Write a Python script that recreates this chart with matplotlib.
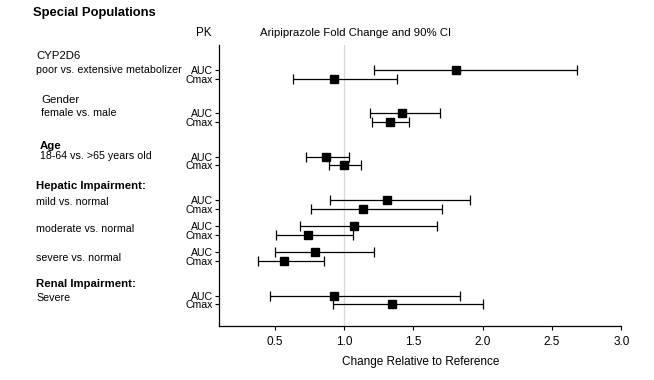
import matplotlib.pyplot as plt
from matplotlib.transforms import blended_transform_factory

plt.rcParams['font.family'] = ['Liberation Sans', 'DejaVu Sans']

# Data (fold change, 90% CI)
pk = ["AUC", "Cmax"] * 7
estimate = [1.81, 0.93, 1.42, 1.33, 0.87, 1.00, 1.31, 1.14, 1.07, 0.74, 0.79, 0.57, 0.93, 1.35]
ci_low = [1.22, 0.63, 1.19, 1.20, 0.73, 0.89, 0.90, 0.76, 0.68, 0.51, 0.50, 0.38, 0.47, 0.92]
ci_high = [2.68, 1.38, 1.69, 1.47, 1.04, 1.12, 1.91, 1.71, 1.67, 1.065, 1.22, 0.86, 1.84, 2.00]

headers = ["CYP2D6", "Gender", "Age", "Hepatic Impairment:", "Renal Impairment:"]
comparisons = ["poor vs. extensive metabolizer", "female vs. male", "18-64 vs. >65 years old",
               "mild vs. normal", "moderate vs. normal", "severe vs. normal", "Severe"]

# layout
ypos = [0, 1, 5, 6, 10, 11, 15, 16, 18, 19, 21, 22, 26, 27]
header_y = [-1.6, 3.45, 8.7, 13.4, 24.6]
header_x = [0.055, 0.063, 0.061, 0.055, 0.055]
header_bold = [False, False, True, True, True]
comp_y = [0.0, 5.0, 9.9, 15.2, 18.3, 21.7, 26.3]
comp_x = [0.055, 0.063, 0.061, 0.055, 0.055, 0.055, 0.055]

fig = plt.figure(figsize=(6.54, 3.80), dpi=100)
ax = fig.add_axes([0.335, 0.142, 0.615, 0.74])

ax.axvline(1.0, color="#d8d8d8", lw=0.9, zorder=0)
err = [[e - l for e, l in zip(estimate, ci_low)], [h - e for e, h in zip(estimate, ci_high)]]
ax.errorbar(estimate, ypos, xerr=err, fmt="s", color="black", ms=5.5,
            elinewidth=0.9, capsize=3.5, capthick=0.9, ecolor="black")

ax.set_xlim(0.1, 3.0)
ax.set_ylim(29.5, -2.9)
ax.set_xticks([0.5, 1.0, 1.5, 2.0, 2.5, 3.0])
ax.set_xticklabels(["0.5", "1.0", "1.5", "2.0", "2.5", "3.0"], fontsize=8.5)
ax.set_yticks(ypos)
ax.set_yticklabels(pk, fontsize=7.6)
ax.tick_params(axis="y", length=3, width=0.8, pad=1.5)
ax.tick_params(axis="x", length=3, width=0.8, pad=4)
for s in ["top", "right"]:
    ax.spines[s].set_visible(False)
ax.spines["left"].set_linewidth(0.9)
ax.spines["bottom"].set_linewidth(0.9)
ax.set_xlabel("Change Relative to Reference", fontsize=8.5, labelpad=6)

fig.text(0.050, 0.965, "Special Populations", fontsize=9.4, fontweight="bold", va="center")
fig.text(0.311, 0.913, "PK", fontsize=8.3, va="center", ha="center")
fig.text(0.543, 0.913, "Aripiprazole Fold Change and 90% CI", fontsize=8.2, va="center", ha="center")

tr = blended_transform_factory(fig.transFigure, ax.transData)
for x, y, t, b in zip(header_x, header_y, headers, header_bold):
    ax.text(x, y, t, transform=tr, fontsize=8.2, va="center",
            fontweight="bold" if b else "normal", clip_on=False)
for x, y, t in zip(comp_x, comp_y, comparisons):
    ax.text(x, y, t, transform=tr, fontsize=7.7, va="center", clip_on=False)

fig.savefig("out.png", dpi=100)
